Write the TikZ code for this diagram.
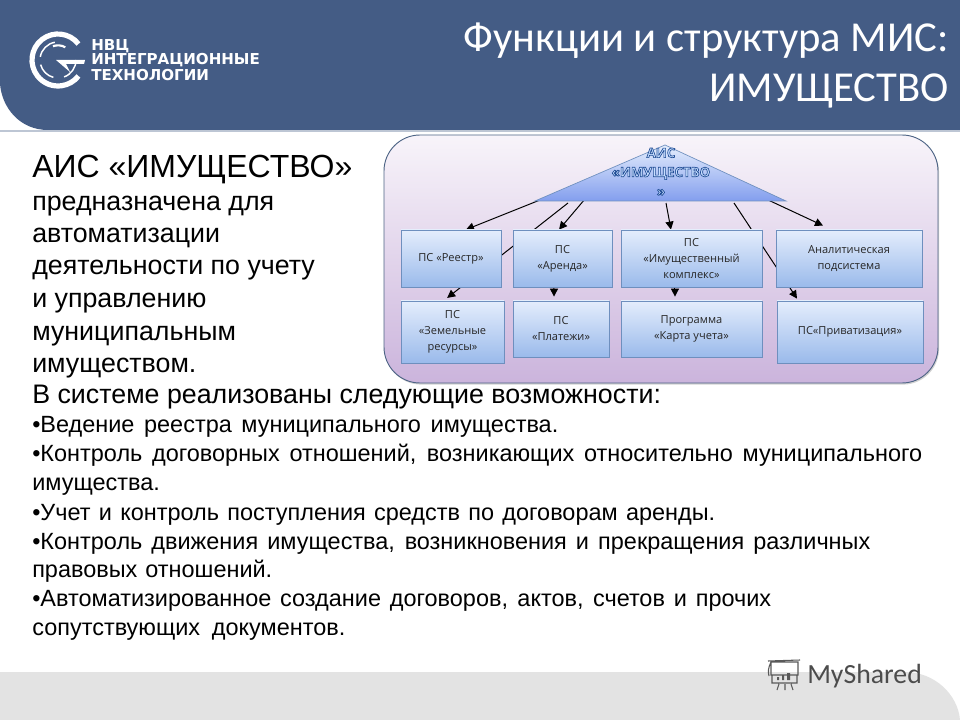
\documentclass[tikz,border=0pt]{standalone}
\usepackage{fontspec}
\setmainfont{Liberation Sans}
\newfontfamily\carlitofont{Carlito}
\newfontfamily\openfont{Open Sans}
\newfontfamily\dejafont{DejaVu Sans}
\usetikzlibrary{positioning}
\usetikzlibrary{arrows.meta}
\usetikzlibrary{shadows}
\newdimen\pxu
\pxu=0.75pt
\newcommand{\fitline}[2]{\makebox[#1\pxu][s]{#2}}
\newcommand{\outlined}[1]{\special{pdf: code q 2 Tr 0.5 w 0.12 0.30 0.58 RG 0.78 0.87 1 rg}#1\special{pdf: code Q}}
\definecolor{headblue}{HTML}{445C85}
\definecolor{boxtop}{HTML}{E4EDFC}
\definecolor{boxbot}{HTML}{9ABAEB}
\definecolor{boxline}{HTML}{6E8FBE}
\definecolor{paneltop}{HTML}{F8F4FA}
\definecolor{panelbot}{HTML}{CBB4DC}
\pgfdeclarelayer{panel}
\pgfdeclarelayer{wires}
\pgfsetlayers{panel,wires,main}
\tikzset{
  boxnode/.style={draw=boxline,line width=0.6pt,top color=boxtop,bottom color=boxbot,align=center,
    inner sep=0pt,font=\openfont\fontsize{8.3}{12}\selectfont,text=black!85,
    drop shadow={shadow xshift=0.6pt,shadow yshift=-0.9pt,opacity=0.35}},
  bodyline/.style={anchor=base west,inner sep=0pt,font=\fontsize{17.6}{18}\selectfont,text=black},
  leftline/.style={anchor=base west,inner sep=0pt,font=\fontsize{20.1}{20}\selectfont,text=black},
  wire/.style={-{Triangle[length=6pt,width=6pt]},line width=0.75pt,black},
  logotext/.style={anchor=west,inner sep=0pt,white,font=\dejafont\bfseries\fontsize{11.3}{11}\selectfont}
}
\begin{document}
\begin{tikzpicture}[x=0.75pt,y=-0.75pt]
    \useasboundingbox (0,0) rectangle (960,720);
    \begin{pgfonlayer}{panel}
    \fill[white] (0,0) rectangle (960,720);
    % page bands
    \fill[black!11] (0,672) -- (905,672) .. controls (935,672) and (958,695) .. (960,720) -- (0,720) -- cycle;
    \fill[headblue!35] (0,130) rectangle (960,132);
    \fill[headblue] (0,0) -- (960,0) -- (960,130) -- (48,130) .. controls (20,130) and (2,108) .. (0,84) -- cycle;
    \path[draw=boxline!70!black,line width=0.7pt,top color=paneltop,bottom color=panelbot,rounded corners=27pt,
        drop shadow={shadow xshift=0.8pt,shadow yshift=-1.2pt,opacity=0.35}] (384,135) rectangle (938,383);
    \end{pgfonlayer}

    % logo
    \draw[white,line width=3.9pt] ([shift={(38:19.5pt)}]58,60) arc[start angle=38,end angle=322,radius=19.5pt];
    \draw[white,line width=1.1pt] ([shift={(100:13.5pt)}]58,60) arc[start angle=100,end angle=170,radius=13.5pt];
    \draw[white,line width=1.1pt] ([shift={(195:13.5pt)}]58,60) arc[start angle=195,end angle=255,radius=13.5pt];
    \draw[white,line width=1.1pt] ([shift={(-70:13.5pt)}]58,60) arc[start angle=-70,end angle=0,radius=13.5pt];
    \draw[white,line width=1.6pt] ([shift={(60:11pt)}]58,60) arc[start angle=60,end angle=110,radius=11pt];
    \fill[white] (56,60) -- (85,60) -- (84,64) -- (66,64) -- (70,72) -- cycle;
    \node[logotext] (nvc) at (91,46) {НВЦ};
    \node[logotext] (integ) at (91,60.5) {ИНТЕГРАЦИОННЫЕ};
    \node[logotext] (tech) at (91,75) {ТЕХНОЛОГИИ};

    % title
    \node[anchor=base east,inner sep=0pt,white,font=\carlitofont\fontsize{32}{34}\selectfont] (title1) at (949,52) {Функции и структура МИС:};
    \node[anchor=base east,inner sep=0pt,white,font=\carlitofont\fontsize{32}{34}\selectfont] (title2) at (949,102) {ИМУЩЕСТВО};

    % left column
    \node[leftline,font=\fontsize{24}{24}\selectfont] (lead0) at (32,178) {АИС «ИМУЩЕСТВО»};
    \node[leftline] (lead1) at (32,211) {предназначена для};
    \node[leftline] (lead2) at (32,243) {автоматизации};
    \node[leftline] (lead3) at (32,275) {деятельности по учету};
    \node[leftline] (lead4) at (32,307) {и управлению};
    \node[leftline] (lead5) at (32,340) {муниципальным};
    \node[leftline] (lead6) at (32,372) {имуществом.};
    \node[leftline] (lead7) at (32,403) {В системе реализованы следующие возможности:};

    % bullet lines
    \node[bodyline] (line1) at (32,432) {\fitline{526}{•Ведение реестра муниципального имущества.}};
    \node[bodyline] (line2) at (32,461) {\fitline{890}{•Контроль договорных отношений, возникающих относительно муниципального}};
    \node[bodyline] (line3) at (32,490) {имущества.};
    \node[bodyline] (line4) at (32,520) {\fitline{683}{•Учет и контроль поступления средств по договорам аренды.}};
    \node[bodyline] (line5) at (32,549) {\fitline{838}{•Контроль движения имущества, возникновения и прекращения различных}};
    \node[bodyline] (line6) at (32,577) {\fitline{240}{правовых отношений.}};
    \node[bodyline] (line7) at (32,606) {\fitline{739}{•Автоматизированное создание договоров, актов, счетов и прочих}};
    \node[bodyline] (line8) at (32,635) {\fitline{313}{сопутствующих документов.}};

    % top triangle
    \path[draw=boxline,line width=0.5pt,top color=boxtop,bottom color=boxbot!85!blue] (665,145) -- (786,201) -- (535,201) -- cycle;
    \node[inner sep=0pt,align=center,font=\openfont\bfseries\fontsize{10}{14.4}\selectfont] (head) at (661,172) {\outlined{АИС}\\\outlined{«ИМУЩЕСТВО}\\\outlined{»}};
    \coordinate (t1) at (545,198);
    \coordinate (t2) at (568,203);
    \coordinate (t3) at (585,199);
    \coordinate (t4) at (666,203);
    \coordinate (t5) at (734,203);
    \coordinate (t6) at (766,199);

    % boxes
    \node[boxnode,minimum width=75pt,minimum height=42.75pt] (reestr) at (451,258.5) {ПС «Реестр»};
    \node[boxnode,minimum width=74.25pt,minimum height=42.75pt] (arenda) at (562.5,258.5) {ПС\\«Аренда»};
    \node[boxnode,minimum width=105.75pt,minimum height=42.75pt] (kompleks) at (691.5,258.5) {ПС\\«Имущественный\\комплекс»};
    \node[boxnode,minimum width=109.5pt,minimum height=42.75pt] (analit) at (849,258.5) {Аналитическая\\подсистема};
    \node[boxnode,minimum width=77.25pt,minimum height=46.5pt] (zemlya) at (452.5,332) {ПС\\«Земельные\\ресурсы»};
    \node[boxnode,minimum width=72pt,minimum height=42pt] (platezhi) at (561,329) {ПС\\«Платежи»};
    \node[boxnode,minimum width=105.75pt,minimum height=42pt] (karta) at (691.5,329) {Программа\\«Карта учета»};
    \node[boxnode,minimum width=109.5pt,minimum height=46.5pt] (privat) at (850,332) {ПС«Приватизация»};

    % connectors
    \begin{pgfonlayer}{wires}
    \draw[wire] (t1) -- ([xshift=11.25pt]reestr.north);
    \draw[wire] (t2) -- ([xshift=-4pt,yshift=2pt]zemlya.north);
    \draw[wire] (t3) -- ([xshift=-2.6pt]arenda.north);
    \draw[wire] (t4) -- ([xshift=-15.4pt]kompleks.north);
    \draw[wire] (t5) -- ([xshift=-39.75pt,yshift=1.5pt]privat.north);
    \draw[wire] (t6) -- ([xshift=-19.5pt,yshift=3pt]analit.north);
    \draw[wire,shorten >=3pt] ([xshift=-6.4pt]arenda.south) -- ([xshift=-5.2pt]platezhi.north);
    \draw[wire,shorten >=3pt] ([xshift=-12.4pt]kompleks.south) -- ([xshift=-12.4pt]karta.north);
    \end{pgfonlayer}

    % watermark
    \draw[black!65,line width=0.8pt] (771,662) rectangle (798,675) (771,662) .. controls (768,668) and (768,672) .. (769,676) (768,661) -- (800,660) (779,684) -- (777,690) (785,684) -- (785,690) (791,684) -- (793,690) (772,675) -- (772,683) -- (797,683) -- (797,675);
    \fill[black!65] (777,677) rectangle (779,680) (782,675) rectangle (784,680) (787,673) rectangle (790,680);
    \node[anchor=base west,inner sep=0pt,text=black!70,font=\carlitofont\fontsize{20.8}{22}\selectfont] (myshared) at (807,683) {MyShared};
\end{tikzpicture}
\end{document}
